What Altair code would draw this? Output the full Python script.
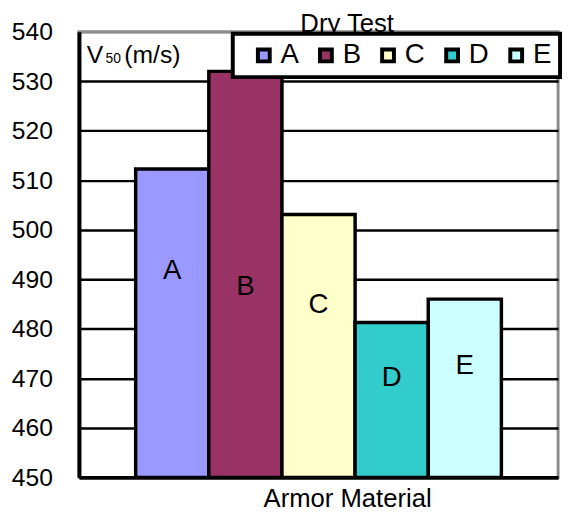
import altair as alt
import pandas as pd

# ---- data ----
materials = ["A", "B", "C", "D", "E"]
v50 = [512.3, 532.0, 503.1, 481.3, 486.0]
label_at = [491.6, 488.4, 484.8, 470.1, 472.4]   # value level where each bar's letter sits
colors = ["#9999FF", "#993366", "#FFFFCC", "#33CCCC", "#CCFFFF"]
y_ticks = [450, 460, 470, 480, 490, 500, 510, 520, 530, 540]
y_min, y_max = 450, 540

df = pd.DataFrame({"material": materials, "v50": v50, "label_at": label_at})

FONT = "Liberation Sans"
W, H = 486, 452

xscale = alt.Scale(domain=materials, paddingInner=0, paddingOuter=0.775)
yscale = alt.Scale(domain=[y_min, y_max], nice=False, zero=False)

x_enc = alt.X(
    "material:N",
    scale=xscale,
    axis=alt.Axis(
        title="Armor Material", labels=False, ticks=False, grid=False,
        domainColor="black", domainWidth=4,
        titleFont=FONT, titleFontSize=26, titleFontWeight="normal",
        titleColor="black", titleX=272, titleY=30, titleAlign="center",
        titleBaseline="alphabetic",
    ),
)

y_axis = alt.Axis(
    values=y_ticks, title=None, ticks=False,
    labelFont=FONT, labelFontSize=25, labelColor="black", labelPadding=27,
    domainColor="black", domainWidth=4,
    grid=True, gridWidth=2.5,
    gridColor=alt.condition("datum.value == 540", alt.value("#8c8c8c"), alt.value("black")),
)

bars = alt.Chart(df).mark_bar(stroke="black", strokeWidth=3.5, clip=True).encode(
    x=x_enc,
    y=alt.Y("v50:Q", scale=yscale, axis=y_axis),
    y2=alt.datum(y_min),
    color=alt.Color(
        "material:N",
        scale=alt.Scale(domain=materials, range=colors),
        legend=alt.Legend(
            title=" ", titleOrient="left", titleFontSize=2, titlePadding=9.5,
            orient="none", legendX=156, legendY=2,
            direction="horizontal",
            symbolType="square", symbolSize=144,
            symbolStrokeColor="black", symbolStrokeWidth=4,
            labelOffset=3,
            labelFont=FONT, labelFontSize=28, labelColor="black",
            columnPadding=13, labelExpr="datum.label + ' '",
        ),
    ),
)

letters = alt.Chart(df).mark_text(font=FONT, fontSize=28, color="black").encode(
    x=alt.X("material:N", scale=xscale),
    y=alt.Y("label_at:Q", scale=yscale),
    text="material:N",
)

title_txt = alt.Chart(pd.DataFrame({"t": ["Dry Test"]})).mark_text(
    font=FONT, fontSize=26, color="black", align="center", baseline="alphabetic"
).encode(x=alt.value(272), y=alt.value(0.5), text="t:N")

unit_v = alt.Chart(pd.DataFrame({"t": ["V"]})).mark_text(
    font=FONT, fontSize=25, color="black", align="left", baseline="alphabetic"
).encode(x=alt.value(8), y=alt.value(31.5), text="t:N")
unit_sub = alt.Chart(pd.DataFrame({"t": ["50"]})).mark_text(
    font=FONT, fontSize=14, color="black", align="left", baseline="alphabetic"
).encode(x=alt.value(27), y=alt.value(31.5), text="t:N")
unit_rest = alt.Chart(pd.DataFrame({"t": ["(m/s)"]})).mark_text(
    font=FONT, fontSize=25, color="black", align="left", baseline="alphabetic"
).encode(x=alt.value(46), y=alt.value(31.5), text="t:N")

chart = (
    alt.layer(bars, letters, title_txt, unit_v, unit_sub, unit_rest)
    .properties(
        width=W, height=H,
        autosize="none",
        padding={"left": 72, "top": 20.5, "right": 6, "bottom": 31.5},
    )
    .configure_view(stroke="#8c8c8c", strokeWidth=3)
    .configure_legend(fillColor="white", strokeColor="black", strokeWidth=4, padding=8, cornerRadius=0)
)

chart.save("out.html", embed_options={"renderer": "svg", "actions": False})
